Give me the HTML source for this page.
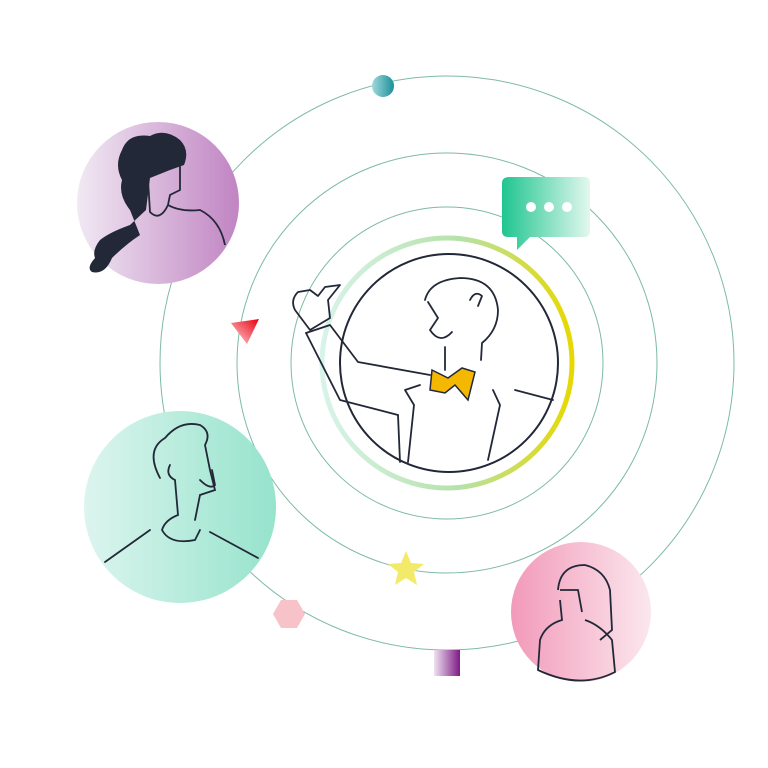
<!DOCTYPE html>
<html><head><style>html,body{margin:0;padding:0;background:#fff}svg{display:block}</style></head>
<body>
<svg width="768" height="768" viewBox="0 0 768 768" xmlns="http://www.w3.org/2000/svg">
<defs>
<linearGradient id="ring" x1="0" y1="0" x2="1" y2="0"><stop offset="0" stop-color="#d8f3ea"/><stop offset="0.55" stop-color="#b5e2a8"/><stop offset="1" stop-color="#e7d800"/></linearGradient>
<linearGradient id="pur" x1="0" y1="0" x2="1" y2="0"><stop offset="0" stop-color="#f1e9f3"/><stop offset="1" stop-color="#c084c2"/></linearGradient>
<linearGradient id="grn" x1="0" y1="0" x2="1" y2="0"><stop offset="0" stop-color="#dcf5ee"/><stop offset="1" stop-color="#96e3cc"/></linearGradient>
<linearGradient id="pnk" x1="0" y1="0" x2="1" y2="0"><stop offset="0" stop-color="#f29ab9"/><stop offset="1" stop-color="#fbe7ee"/></linearGradient>
<linearGradient id="chat" x1="0" y1="0" x2="1" y2="0"><stop offset="0" stop-color="#1fc58f"/><stop offset="1" stop-color="#e2f8ef"/></linearGradient>
<linearGradient id="teal" x1="0" y1="0" x2="1" y2="0"><stop offset="0" stop-color="#9fd9dc"/><stop offset="1" stop-color="#1b8f98"/></linearGradient>
<linearGradient id="red" x1="1" y1="0" x2="0" y2="1"><stop offset="0" stop-color="#e8000f"/><stop offset="1" stop-color="#ffd6da"/></linearGradient>
<linearGradient id="sq" x1="0" y1="0" x2="1" y2="0"><stop offset="0" stop-color="#efe2f1"/><stop offset="1" stop-color="#7d1b85"/></linearGradient>
</defs>
<g fill="none" stroke="#7dbba3" stroke-width="1">
<circle cx="447" cy="363" r="287"/>
<circle cx="447" cy="363" r="210"/>
<circle cx="447" cy="363" r="156"/>
</g>
<circle cx="447" cy="363" r="125" fill="none" stroke="url(#ring)" stroke-width="5"/>
<circle cx="449" cy="363" r="109" fill="#fff" stroke="#232838" stroke-width="2"/>
<g fill="none" stroke="#232838" stroke-width="1.8" stroke-linejoin="round" stroke-linecap="round">
<path d="M306 333 L330 325 L358 362 L430 375"/>
<path d="M306 333 L340 400 L398 415"/>
<path d="M295 310 Q290 300 298 292 L310 290 L318 296 L325 287 L340 285 L328 300 L330 318 L310 330 Z"/>
<path d="M398 415 L400 462 M408 462 L414 405 L405 390 L420 385"/>
<path d="M493 390 L500 405 L488 460 M515 390 L553 400"/>
<path d="M425 300 Q430 280 460 278 Q495 278 498 310 Q498 330 482 343 L481 360 M445 347 L445 370"/>
<path d="M428 302 L438 318 L430 330 Q440 345 452 332"/>
<path d="M470 300 Q475 290 482 296 L478 306"/>
</g>
<path d="M432 370 L448 378 L462 368 L475 372 L468 400 L455 385 L445 393 L430 390 Z" fill="#f5b800" stroke="#232838" stroke-width="1.5"/>
<circle cx="158" cy="203" r="81" fill="url(#pur)"/>
<path d="M122 150 Q128 133 150 136 Q165 128 180 140 Q190 150 184 165 L170 170 L150 178 L146 210 L130 225 Q110 232 100 240 Q92 250 95 258 Q86 268 92 272 Q105 275 112 258 Q125 245 140 235 L130 210 Q118 195 122 180 Q114 165 122 150Z" fill="#232838"/>
<path d="M150 165 L180 160 L180 190 L170 195 L168 205 Q180 212 200 210 Q220 220 225 245 M148 180 L150 212 Q160 222 168 205" fill="none" stroke="#232838" stroke-width="1.8"/>
<circle cx="180" cy="507" r="96" fill="url(#grn)"/>
<g fill="none" stroke="#232838" stroke-width="1.8" stroke-linecap="round">
<path d="M160 478 Q145 450 165 438 Q180 420 200 425 Q212 432 205 445 L210 470 L215 490 L200 495 L195 520"/>
<path d="M170 465 Q165 475 175 480 L178 515 Q165 520 162 530 Q170 545 195 540 L200 530"/>
<path d="M200 480 Q210 490 215 485 L212 470 M150 530 L105 562 M210 532 L258 558"/>
</g>
<circle cx="581" cy="612" r="70" fill="url(#pnk)"/>
<g fill="none" stroke="#232838" stroke-width="1.8">
<path d="M558 590 Q560 565 585 565 Q605 570 610 590 L612 630 L600 640"/>
<path d="M560 590 L578 590 L582 612 M560 600 L562 620 Q545 625 540 640 L538 670 Q580 690 615 672 L612 640 Q600 625 585 620"/>
</g>
<circle cx="383" cy="86" r="11" fill="url(#teal)"/>
<path d="M510 177 H584 Q590 177 590 183 V231 Q590 237 584 237 H530 L517 250 L517 237 H508 Q502 237 502 231 V183 Q502 177 510 177Z" fill="url(#chat)"/>
<circle cx="531" cy="207" r="5" fill="#fff"/><circle cx="549" cy="207" r="5" fill="#fff"/><circle cx="567" cy="207" r="5" fill="#fff"/>
<path d="M231 323 L259 319 L247 344 Z" fill="url(#red)"/>
<path d="M406 551 L411 563 L424 564 L414 572 L417 585 L406 578 L395 585 L398 572 L388 564 L401 563Z" fill="#f3ea6a"/>
<path d="M281 600 L297 600 L305 614 L297 628 L281 628 L273 614Z" fill="#f7c2c8"/>
<rect x="434" y="650" width="26" height="26" fill="url(#sq)"/>
</svg>
</body></html>
